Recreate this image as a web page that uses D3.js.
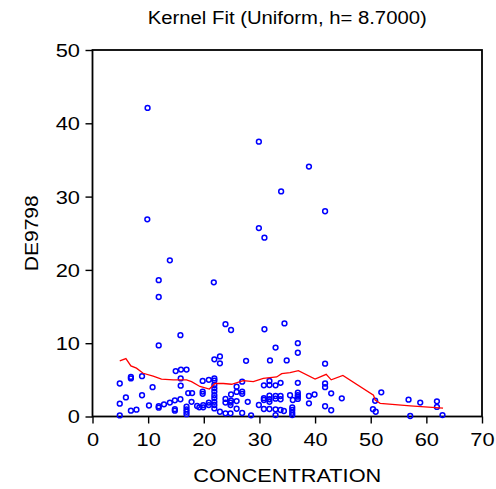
<!DOCTYPE html>
<html>
<head>
<meta charset="utf-8">
<script src="https://cdnjs.cloudflare.com/ajax/libs/d3/7.8.5/d3.min.js"></script>
<style>
  body { margin: 0; background: #fff; }
  text { font-family: "Liberation Sans", Arial, Helvetica, sans-serif; fill: #000; }
</style>
</head>
<body>
<div id="chart"></div>
<script>
const obs = [
  [9.9,42.1],[29.9,37.5],[38.9,34.1],[33.9,30.7],[9.85,26.9],[41.8,28.0],[29.9,25.7],[30.9,24.4],
  [13.9,21.3],[11.9,18.6],[21.8,18.3],[11.9,16.3],
  [23.9,12.6],[34.5,12.7],[24.9,11.8],[30.9,11.9],[15.8,11.1],[36.9,10.0],[11.9,9.7],[32.9,9.4],
  [36.9,8.7],[22.9,8.2],[21.9,7.8],[22.9,7.25],[27.6,7.6],[31.9,7.65],[34.9,7.65],[41.8,7.2],
  [4.9,4.5],[6.9,5.4],[6.9,5.2],[8.9,5.5],[10.8,4.0],[6.0,2.6],[8.9,2.9],[4.9,1.75],[4.9,0.15],
  [6.9,0.8],[7.9,0.93],[10.15,1.5],[11.9,1.4],[11.9,1.2],[12.85,1.66],[13.9,1.9],[14.8,2.2],
  [15.8,2.35],[14.8,1.0],[14.8,0.8],[16.9,1.34],[16.9,0.98],[16.9,0.65],[16.9,0.32],[14.95,6.2],
  [15.9,6.4],[16.9,6.4],[15.85,5.2],[15.85,4.2],
  [17.2,3.2],[17.9,3.2],[17.8,2.0],[18.8,1.43],[19.2,1.25],[19.9,1.56],[19.9,1.25],[19.8,4.85],
  [20.9,5.0],[21.9,5.2],[21.9,4.9],[19.8,3.4],[19.8,3.1],[20.9,1.9],[20.9,1.56],[21.9,4.3],
  [21.9,3.85],[21.9,3.4],[21.9,2.9],[21.9,2.5],[21.9,2.0],[21.9,1.57],[21.9,1.1],[22.9,0.65],
  [23.9,0.43],[23.9,2.4],[23.9,1.9],[24.8,0.43],[24.8,1.9],[24.8,1.56],[24.9,3.0],[24.9,2.15],
  [25.9,4.07],[25.9,3.35],[25.9,2.1],[25.9,1.06],[26.9,4.75],[26.9,3.4],[26.9,3.1],[26.9,0.48],
  [27.9,2.0],[28.5,0.16],[29.9,1.57],
  [30.8,4.25],[30.8,2.5],[30.8,2.25],[30.8,1.02],[31.8,4.84],[31.8,4.3],[31.8,2.84],[31.8,2.35],
  [31.8,2.0],[31.8,1.02],[32.9,4.25],[32.9,2.8],[32.9,2.43],[32.9,0.98],[33.8,4.6],[33.8,2.8],
  [33.8,2.35],[33.8,0.89],[34.4,0.75],[32.9,0.2],[36.9,4.6],[35.5,2.9],[36.0,2.25],[36.9,3.25],
  [36.9,2.9],[36.9,2.7],[36.9,2.4],[35.9,1.25],[35.9,0.9],[35.9,0.5],[35.9,0.2],
  [38.9,2.8],[39.9,3.0],[38.9,1.8],[41.8,4.5],[41.8,4.0],[42.9,3.16],[44.8,2.48],[41.8,1.4],
  [42.9,0.85],[50.8,2.15],[51.9,3.3],[50.4,1.0],[50.9,0.65],[56.8,2.3],[58.9,1.9],[61.9,2.07],
  [61.9,1.3],[57.1,0.07],[62.9,0.2]
];

// uniform kernel fit, traced
const fit = [
  [4.9,7.6],[6.0,7.9],[6.9,6.9],[7.9,6.6],[9.1,5.9],[10.9,5.5],[12.4,5.1],[14.5,5.0],[16.9,5.0],
  [17.8,4.75],[19.3,4.1],[21.0,3.75],[22.0,4.5],[23.5,4.5],[25.0,4.4],[27.1,4.9],[28.9,4.75],
  [30.7,5.2],[33.1,5.4],[34.0,5.85],[35.5,6.0],[37.0,6.25],[40.0,5.1],[42.0,5.75],[42.9,5.0],
  [45.0,5.6],[50.5,2.9],[50.8,2.25],[51.7,1.8],[57.1,1.45],[63.0,1.15]
];

const xTicks = [0, 10, 20, 30, 40, 50, 60, 70];
const yTicks = [0, 10, 20, 30, 40, 50];
const title = "Kernel Fit (Uniform, h= 8.7000)";
const xLabel = "CONCENTRATION";
const yLabel = "DE9798";

const width = 496, height = 489;
const margin = ({ top: 50, right: 14, bottom: 72.5, left: 92.5 });
const stretch = 1.15;

const svg = d3.select("#chart").append("svg")
    .attr("width", width)
    .attr("height", height);

const x = d3.scaleLinear().domain([0, 70]).range([margin.left, width - margin.right]);
const y = d3.scaleLinear().domain([0, 50]).range([height - margin.bottom, margin.top]);

// x axis
const gx = svg.append("g")
    .attr("transform", `translate(0, ${y(0)})`)
    .call(d3.axisBottom(x).tickValues(xTicks).tickSize(7).tickPadding(9.5).tickSizeOuter(0));
gx.select(".domain").remove();
gx.selectAll("line").attr("stroke", "#000").attr("stroke-width", 1.4);
gx.selectAll("text")
    .attr("font-size", 19)
    .attr("font-family", "Liberation Sans, Arial, sans-serif")
    .attr("transform", `scale(${stretch},1)`);

// y axis
const gy = svg.append("g")
    .attr("transform", `translate(${x(0)}, 0)`)
    .call(d3.axisLeft(y).tickValues(yTicks).tickSize(7).tickSizeOuter(0));
gy.select(".domain").remove();
gy.selectAll("line").attr("stroke", "#000").attr("stroke-width", 1.4);
gy.selectAll("text")
    .attr("font-size", 19)
    .attr("font-family", "Liberation Sans, Arial, sans-serif")
    .attr("x", -12.5 / stretch)
    .attr("dy", "0.34em")
    .attr("transform", `scale(${stretch},1)`);

// frame
svg.append("rect")
    .attr("x", x(0))
    .attr("y", y(50))
    .attr("width", x(70) - x(0))
    .attr("height", y(0) - y(50))
    .attr("fill", "none")
    .attr("stroke", "#000")
    .attr("stroke-width", 1.8);

// scatter
svg.append("g")
  .selectAll("circle")
  .data(obs)
  .enter()
  .append("circle")
    .attr("cx", d => x(d[0]))
    .attr("cy", d => y(d[1]))
    .attr("r", 2.4)
    .attr("fill", "none")
    .attr("stroke", "#0000ff")
    .attr("stroke-width", 1.5);

// kernel line
const line = d3.line().x(d => x(d[0])).y(d => y(d[1]));
svg.append("path")
    .datum(fit)
    .attr("d", line)
    .attr("fill", "none")
    .attr("stroke", "#ff0000")
    .attr("stroke-width", 1.3);

// titles
svg.append("text")
    .attr("x", (x(0) + x(70)) / 2)
    .attr("y", 24)
    .attr("text-anchor", "middle")
    .attr("font-size", 18)
    .attr("textLength", 279)
    .attr("lengthAdjust", "spacingAndGlyphs")
    .text(title);

svg.append("text")
    .attr("x", (x(0) + x(70)) / 2)
    .attr("y", 482)
    .attr("text-anchor", "middle")
    .attr("font-size", 19)
    .attr("textLength", 188)
    .attr("lengthAdjust", "spacingAndGlyphs")
    .text(xLabel);

svg.append("text")
    .attr("transform", `translate(38, ${(y(0) + y(50)) / 2}) rotate(-90)`)
    .attr("text-anchor", "middle")
    .attr("font-size", 19)
    .attr("textLength", 76)
    .attr("lengthAdjust", "spacingAndGlyphs")
    .text(yLabel);
</script>
</body>
</html>
